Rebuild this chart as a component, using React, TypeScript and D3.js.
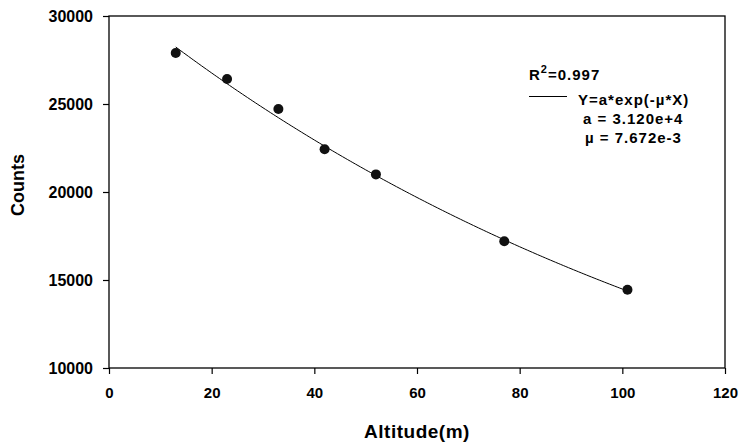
import * as d3 from "d3"
import { useRef, useEffect } from "react"

// measured points
const altitudes = [13, 23, 33, 42, 52, 77, 101]
const counts = [27900, 26420, 24720, 22430, 21000, 17200, 14450]

const xTicks = [0, 20, 40, 60, 80, 100, 120]
const yTicks = [10000, 15000, 20000, 25000, 30000]

// fit parameters from the legend
const fitA = 3.12e4
const fitMu = 7.672e-3
const rSquared = "0.997"

export default function App() {
  const svgRef = useRef<SVGSVGElement>(null)

  useEffect(() => {
    if (!svgRef.current) return
    const width = 747
    const height = 448
    const margin = { top: 16, right: 22, bottom: 80, left: 109 }
    const font = "'Liberation Sans', Arial, sans-serif"

    const svg = d3.select(svgRef.current)
    svg.selectAll("*").remove()
    svg.attr("width", width).attr("height", height)

    const x = d3.scaleLinear().domain([0, 120]).range([margin.left, width - margin.right])
    const y = d3.scaleLinear().domain([10000, 30000]).range([height - margin.bottom, margin.top])

    // frame
    svg
      .append("rect")
      .attr("x", x(0))
      .attr("y", y(30000))
      .attr("width", x(120) - x(0))
      .attr("height", y(10000) - y(30000))
      .attr("fill", "none")
      .attr("stroke", "#000")
      .attr("stroke-width", 1.3)

    svg
      .append("g")
      .attr("transform", `translate(0,${y(10000)})`)
      .call(d3.axisBottom(x).tickValues(xTicks).tickSize(6).tickPadding(13).tickFormat(d3.format("d")))
      .call((g) => g.select(".domain").remove())
      .call((g) => g.selectAll("line").attr("stroke-width", 1.2))
      .call((g) =>
        g
          .selectAll("text")
          .style("font-family", font)
          .style("font-size", "15px")
          .style("font-weight", "bold")
          .attr("fill", "#000"),
      )

    svg
      .append("g")
      .attr("transform", `translate(${x(0)},0)`)
      .call(d3.axisLeft(y).tickValues(yTicks).tickSize(6).tickPadding(10).tickFormat(d3.format("d")))
      .call((g) => g.select(".domain").remove())
      .call((g) => g.selectAll("line").attr("stroke-width", 1.2))
      .call((g) =>
        g
          .selectAll("text")
          .style("font-family", font)
          .style("font-size", "16px")
          .style("font-weight", "bold")
          .attr("fill", "#000"),
      )

    // fitted curve
    const fitXs = d3.range(altitudes[0], altitudes[altitudes.length - 1] + 0.01, 0.5)
    const line = d3
      .line<number>()
      .x((d) => x(d))
      .y((d) => y(fitA * Math.exp(-fitMu * d)))
    svg
      .append("path")
      .attr("d", line(fitXs) ?? "")
      .attr("fill", "none")
      .attr("stroke", "#000")
      .attr("stroke-width", 1)

    svg
      .append("g")
      .selectAll("circle")
      .data(altitudes)
      .enter()
      .append("circle")
      .attr("cx", (d) => x(d))
      .attr("cy", (_d, i) => y(counts[i]))
      .attr("r", 5)
      .attr("fill", "#111")

    // axis titles
    svg
      .append("text")
      .attr("x", (x(0) + x(120)) / 2)
      .attr("y", 438)
      .attr("text-anchor", "middle")
      .style("font-family", font)
      .style("font-size", "19px")
      .style("font-weight", "bold")
      .style("letter-spacing", "0.5px")
      .text("Altitude(m)")

    svg
      .append("text")
      .attr("transform", `translate(24,185) rotate(-90)`)
      .attr("text-anchor", "middle")
      .style("font-family", font)
      .style("font-size", "18px")
      .style("font-weight", "bold")
      .text("Counts")

    // legend
    const legend = svg
      .append("g")
      .style("font-family", font)
      .style("font-weight", "bold")
      .style("font-size", "15px")
      .style("letter-spacing", "1px")
    const r2 = legend.append("text").attr("x", 529).attr("y", 80)
    r2.append("tspan").text("R")
    r2.append("tspan").attr("dy", -7).style("font-size", "11px").text("2")
    r2.append("tspan").attr("dy", 7).text(`=${rSquared}`)

    legend
      .append("line")
      .attr("x1", 529)
      .attr("x2", 567)
      .attr("y1", 96.5)
      .attr("y2", 96.5)
      .attr("stroke", "#000")
      .attr("stroke-width", 1)
    legend.append("text").attr("x", 578).attr("y", 105).text("Y=a*exp(-\u00b5*X)")
    legend.append("text").attr("x", 583).attr("y", 124).text(`a = ${fitA.toExponential(3)}`)
    legend.append("text").attr("x", 585).attr("y", 143).text(`\u00b5 = ${fitMu.toExponential(3)}`)
  }, [])

  return (
    <div style={{ position: "absolute", left: 0, top: 0, width: 747, height: 448, background: "#fff" }}>
      <svg ref={svgRef}></svg>
    </div>
  )
}
